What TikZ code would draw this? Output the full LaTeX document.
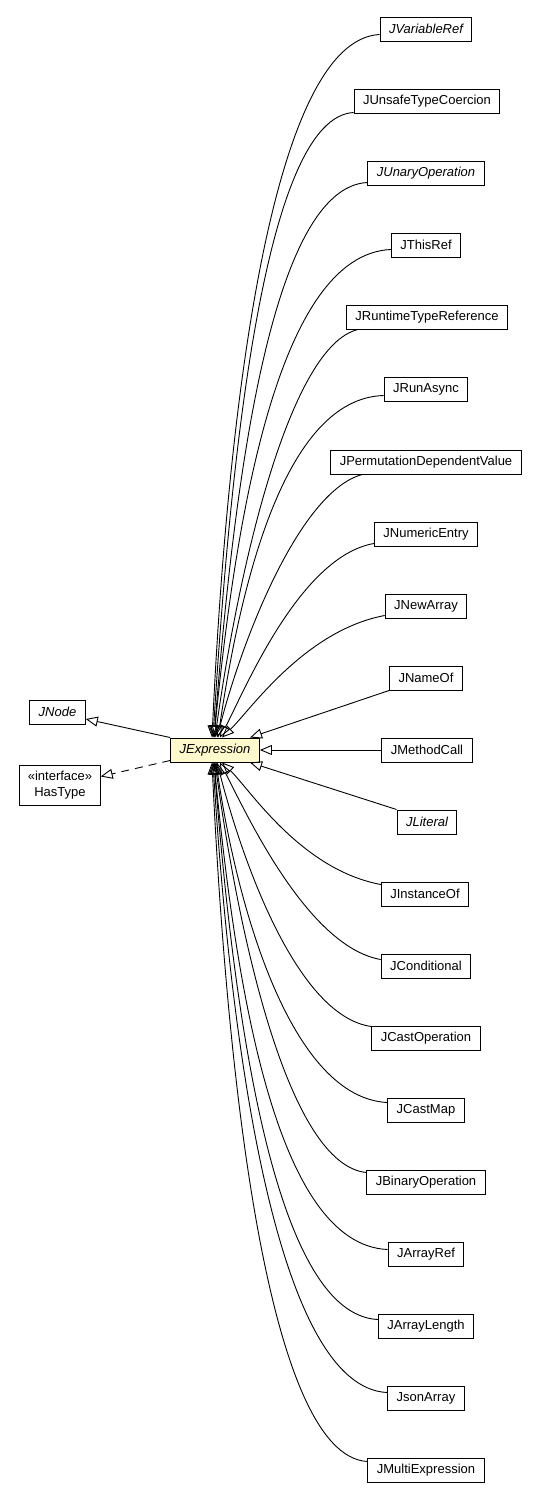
\documentclass[tikz,border=0pt]{standalone}
\usepackage{fontspec}
\setmainfont{Liberation Sans}
\usetikzlibrary{arrows.meta}
\definecolor{chiffon}{RGB}{255,250,205}

\begin{document}
\begin{tikzpicture}[x=1pt, y=-1pt,
    cls/.style={draw, line width=1pt, minimum height=24pt, inner xsep=9pt, inner ysep=0pt,
                font=\fontsize{13}{16}\selectfont},
    acls/.style={cls, font=\fontsize{13}{16}\selectfont\itshape},
    inh/.style={-{Triangle[open, length=12pt, width=10pt]}, line width=0.9pt},
    impl/.style={inh, dash pattern=on 8pt off 6pt}]
    \useasboundingbox (0,0) rectangle (540,1499);

    % Context class and its supertypes
    \node[acls, fill=chiffon] (JExpression) at (215,750) {JExpression};
    \node[acls] (JNode) at (57.5,712) {JNode};
    \node[cls, align=center, minimum height=40pt, inner xsep=8pt] (HasType) at (60,785.5) {«interface»\\HasType};

    \draw[inh] (JExpression.north west) -- ([yshift=-7pt]JNode.east);
    \draw[impl] ([yshift=2pt]JExpression.south west) -- ([yshift=9pt]HasType.east);

    % Subclasses
    \node[acls] (JVariableRef) at (426,29) {JVariableRef};
    \node[cls]  (JUnsafeTypeCoercion) at (427,101) {JUnsafeTypeCoercion};
    \node[acls] (JUnaryOperation) at (426,173) {JUnaryOperation};
    \node[cls]  (JThisRef) at (426,245) {JThisRef};
    \node[cls]  (JRuntimeTypeReference) at (427,317) {JRuntimeTypeReference};
    \node[cls]  (JRunAsync) at (426,389) {JRunAsync};
    \node[cls]  (JPermutationDependentValue) at (426,462) {JPermutationDependentValue};
    \node[cls]  (JNumericEntry) at (426,534) {JNumericEntry};
    \node[cls]  (JNewArray) at (426,606) {JNewArray};
    \node[cls]  (JNameOf) at (426,678) {JNameOf};
    \node[cls]  (JMethodCall) at (427,750) {JMethodCall};
    \node[acls] (JLiteral) at (427,822) {JLiteral};
    \node[cls]  (JInstanceOf) at (425,894) {JInstanceOf};
    \node[cls]  (JConditional) at (426,966) {JConditional};
    \node[cls]  (JCastOperation) at (426,1038) {JCastOperation};
    \node[cls]  (JCastMap) at (426,1110) {JCastMap};
    \node[cls]  (JBinaryOperation) at (426,1182) {JBinaryOperation};
    \node[cls]  (JArrayRef) at (426,1254) {JArrayRef};
    \node[cls]  (JArrayLength) at (426,1326) {JArrayLength};
    \node[cls]  (JsonArray) at (426,1398) {JsonArray};
    \node[cls]  (JMultiExpression) at (426,1470) {JMultiExpression};

    % Generalisation edges, above
    \foreach \n/\sx/\sy/\ex/\ax/\ay/\bx/\by in {
            JVariableRef/0/7/-3/-110/6/15/-318, JUnsafeTypeCoercion/0/1/-2/-88/5/18/-290,
            JUnaryOperation/0/3/-1/-96/5/20/-257, JThisRef/0/8/-1/-112/5/22/-224,
            JRuntimeTypeReference/12/0/0/-67/16/25/-178, JRunAsync/0/6/3/-100/3/22/-150,
            JPermutationDependentValue/32/0/2/-60/16/28/-108, JNumericEntry/0/3/5/-74/13/25/-48,
            JNewArray/0/3/7/-80/15/28/-27}
        \draw[inh] ([xshift=\sx pt, yshift=\sy pt]\n.south west) .. controls +(\ax,\ay) and +(\bx,\by) .. ([xshift=\ex pt]JExpression.north);

    % straight ones
    \draw[inh] (JNameOf.south west) -- ([xshift=35pt]JExpression.north);
    \draw[inh] (JMethodCall) -- (JExpression);
    \draw[inh] (JLiteral.north west) -- ([xshift=35pt]JExpression.south);

    % Generalisation edges, below
    \foreach \n/\sx/\sy/\ex/\ax/\ay/\bx/\by in {
            JInstanceOf/0/-3/7/-80/-15/28/27, JConditional/0/-6/5/-74/-13/25/48,
            JCastOperation/0/-1/2/-72/-10/28/108, JCastMap/0/-5/1/-95/-5/22/150,
            JBinaryOperation/0/-3/0/-77/-8/25/180, JArrayRef/0/-8/-1/-112/-5/22/224,
            JArrayLength/0/-6/-1/-103/-5/20/257, JsonArray/0/-7/-2/-110/-5/18/290,
            JMultiExpression/0/-4/-3/-100/-6/15/316}
        \draw[inh] ([xshift=\sx pt, yshift=\sy pt]\n.north west) .. controls +(\ax,\ay) and +(\bx,\by) .. ([xshift=\ex pt]JExpression.south);
\end{tikzpicture}
\end{document}
